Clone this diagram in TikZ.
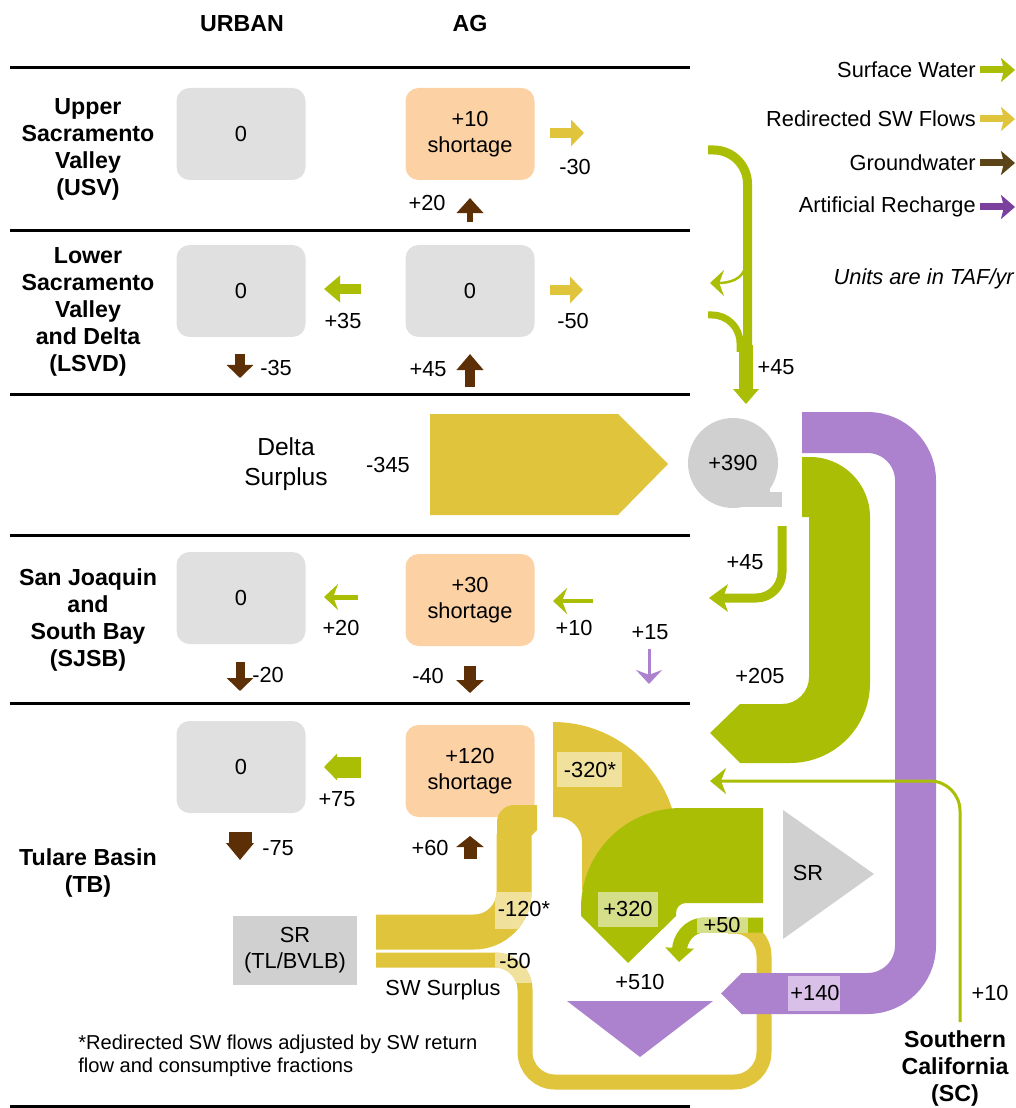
\documentclass[tikz,border=0pt]{standalone}
\usepackage{fontspec}
\setmainfont{Liberation Sans}
\usetikzlibrary{arrows.meta}
\definecolor{swgreen}{HTML}{A9BE04}
\definecolor{swgreenlt}{HTML}{D5DF8A}
\definecolor{redirgold}{HTML}{E0C43C}
\definecolor{redirgoldlt}{HTML}{F0E29C}
\definecolor{gwbrown}{HTML}{5C2F06}
\definecolor{gwlegend}{HTML}{5C4419}
\definecolor{arpurple}{HTML}{AC82CF}
\definecolor{arpurplelt}{HTML}{D8C0E8}
\definecolor{arlegend}{HTML}{7B3F9E}
\definecolor{boxgrey}{HTML}{E0E0E0}
\definecolor{srgrey}{HTML}{D0D0D0}
\definecolor{shortpeach}{HTML}{FCD1A4}
\newdimen\pxl
\pxl=0.025cm

\begin{document}
\begin{tikzpicture}[x=0.025cm, y=-0.025cm,
    font=\fontsize{15.5}{18.4}\selectfont,
    every node/.style={inner sep=0pt, align=center},
    region/.style={font=\fontsize{16.5}{19.2}\selectfont\bfseries},
    usebox/.style={fill=boxgrey, rounded corners=13\pxl, minimum width=129\pxl, minimum height=92\pxl},
    shortbox/.style={usebox, fill=shortpeach},
    divider/.style={draw=black, line width=3\pxl},
    blk/.style args={#1/#2/#3}{line width=#1\pxl, -{Triangle[length=#2cm, width=#3cm]}},
    narrowarr/.style={line width=#1\pxl, -{Stealth[length=0.35cm, width=0.65cm, inset=0.12cm]}},
    lgd/.style={line width=7\pxl, -{Stealth[length=0.35cm, width=0.6cm, inset=0.075cm]}}]
  \useasboundingbox (0,0) rectangle (1016,1108);
  % dividers
  \foreach \yy in {68,231,394,535,703,1106}
    \draw[divider] (10,\yy) -- (690,\yy);
  \node[region] (urbanhd) at (242,24) {URBAN};
  \node[region] (aghd) at (470,24) {AG};
  % legend
  \node[anchor=east] (lgsw) at (976,70) {Surface Water};
  \node[anchor=east] (lgredir) at (976,119) {Redirected SW Flows};
  \node[anchor=east] (lggw) at (976,163) {Groundwater};
  \node[anchor=east] (lgar) at (976,207) {Artificial Recharge};
  \draw[lgd, swgreen] (980,70) -- (1015,70);
  \draw[lgd, redirgold] (980,119) -- (1015,119);
  \draw[lgd, gwlegend] (980,163) -- (1015,163);
  \draw[lgd, arlegend] (980,207) -- (1015,207);
  \node[anchor=east, font=\fontsize{15.5}{18.4}\selectfont\itshape] (units) at (1014,279) {Units are in TAF/yr};
  % USV
  \node[region] (usv) at (88,149) {Upper\\Sacramento\\Valley\\(USV)};
  \node[usebox] (usvurb) at (241,134) {0};
  \node[shortbox] (usvag) at (470,134) {+10\\shortage};
  \draw[blk=10/0.325/0.65, redirgold] (550,133) -- (584,133);
  \node (usvout) at (575,167) {-30};
  \draw[blk=6/0.375/0.65, gwbrown] (470,222) -- (470,198);
  \node (usvgw) at (427,203) {+20};
  % LSVD
  \node[region] (lsvd) at (88,312) {Lower\\Sacramento\\Valley\\and Delta\\(LSVD)};
  \node[usebox] (lsvdurb) at (241,291) {0};
  \node[usebox] (lsvdag) at (470,291) {0};
  \draw[blk=10/0.4/0.65, swgreen] (361,289) -- (324,289);
  \node (lsvdsw) at (343,321) {+35};
  \draw[blk=10/0.325/0.65, redirgold] (550,290) -- (583,290);
  \node (lsvdout) at (573,321) {-50};
  \draw[blk=10/0.325/0.65, gwbrown] (240,354) -- (240,378);
  \node (lsvdugw) at (276,368) {-35};
  \draw[blk=10/0.4/0.65, gwbrown] (470,387) -- (470,354);
  \node (lsvdagw) at (428,369) {+45};
  % delta
  \node[font=\fontsize{17.5}{21.3}\selectfont] (delta) at (286,464) {Delta\\Surplus};
  \node (deltaval) at (388,465) {-345};
  \fill[redirgold] (430,414) -- (618,414) -- (668,464) -- (618,515) -- (430,515) -- cycle;
  \fill[srgrey] (733,463) circle[radius=45];
  \fill[srgrey] (733,480) rectangle (770,507);
  \fill[srgrey] (733,492) rectangle (782,507);
  \node (pump) at (733,463) {+390};
  % sw from north
  \draw[swgreen, line width=9\pxl, rounded corners=34\pxl] (708,150) -- (747.5,150) -- (747.5,352);
  \draw[swgreen, line width=7\pxl, rounded corners=28\pxl] (708,315) -- (740,315) -- (740,352);
  \fill[swgreen] (739,345) rectangle (753,390);
  \fill[swgreen] (733,389) -- (759,389) -- (746,404) -- cycle;
  \draw[swgreen, narrowarr=2.5] (745,268) .. controls (742,279) and (730,283) .. (710,283);
  \node (northsw) at (776,367) {+45};
  % SJSB
  \node[region] (sjsb) at (88,620) {San Joaquin\\and\\South Bay\\(SJSB)};
  \node[usebox] (sjsburb) at (241,598) {0};
  \node[shortbox] (sjsbag) at (470,600) {+30\\shortage};
  \draw[swgreen, narrowarr=5] (358,597) -- (324,597);
  \node (sjsbsw) at (341,628) {+20};
  \draw[swgreen, narrowarr=4] (593,601) -- (553,601);
  \node (sjsbagsw) at (574,628) {+10};
  \draw[arpurple, narrowarr=3] (649,649) -- (649,684);
  \node (sjsbar) at (650,632) {+15};
  \draw[blk=9/0.325/0.65, gwbrown] (240,662) -- (240,691);
  \node (sjsbugw) at (268,675) {-20};
  \draw[blk=12/0.325/0.675, gwbrown] (470,666) -- (470,693);
  \node (sjsbagw) at (428,676) {-40};
  \draw[swgreen, line width=9\pxl, rounded corners=26\pxl] (782,526) -- (782,598) -- (722,598);
  \fill[swgreen] (709,598) -- (728,584) -- (723,598) -- (728,612) -- cycle;
  \node (deltasw) at (745,562) {+45};
  \fill[swgreen] (802,457) -- (810,457) arc[start angle=-90, end angle=0, radius=60]
    -- (870,683) arc[start angle=0, end angle=90, radius=80]
    -- (740,763) -- (710,733) -- (740,704) -- (782,704)
    arc[start angle=90, end angle=0, radius=27] -- (809,517) -- (802,517) -- cycle;
  \node (southsw) at (760,676) {+205};
  % TB
  \node[region] (tb) at (88,873) {Tulare Basin\\(TB)};
  \node[usebox] (tburb) at (241,767) {0};
  \node[shortbox] (tbag) at (470,771) {+120\\shortage};
  \draw[blk=21/0.325/0.65, swgreen] (361,767) -- (324,767);
  \node (tbsw) at (337,799) {+75};
  \draw[blk=23/0.425/0.675, gwbrown] (240,832) -- (240,860);
  \node (tbugw) at (278,848) {-75};
  \draw[blk=13/0.275/0.675, gwbrown] (470,859) -- (470,836);
  \node (tbagw) at (430,848) {+60};
  \node[fill=srgrey, minimum width=124\pxl, minimum height=69\pxl] (srtb) at (295,950) {SR\\(TL/BVLB)};
  \fill[redirgold] (553,722) arc[start angle=-90, end angle=0, radius=125]
    -- (678,890) -- (582,890) -- (582,842) arc[start angle=0, end angle=-90, radius=25] -- (553,817) -- cycle;
  \fill[swgreen] (681,808) -- (763,808) -- (763,903) -- (686,903)
    arc[start angle=-90, end angle=-180, radius=10] -- (676,916) -- (628,963) -- (581,916) -- (581,908)
    arc[start angle=180, end angle=270, radius=100] -- cycle;
  \draw[redirgold, line width=35\pxl, rounded corners=40\pxl] (376,932) -- (514,932) -- (514,834);
  \fill[redirgold] (497,835) -- (497,822) arc[start angle=180, end angle=270, radius=17] -- (537,805) -- (537,830) -- (531,836) -- cycle;
  \draw[redirgold, line width=15\pxl, rounded corners=30\pxl] (376,960) -- (525,960) -- (525,1082) -- (764,1082) -- (764,926) -- (728,926);
  \begin{scope}
    \clip (495,892) rectangle (532,928);
    \draw[redirgoldlt, line width=35\pxl, rounded corners=40\pxl] (376,932) -- (514,932) -- (514,834);
  \end{scope}
  \begin{scope}
    \clip (495,953) rectangle (533,982);
    \draw[redirgoldlt, line width=15\pxl, rounded corners=30\pxl] (376,960) -- (525,960) -- (525,1082);
  \end{scope}
  \draw[swgreen, line width=15\pxl, -{Triangle[length=0.35cm, width=0.7cm]}] (763,925) -- (705,925) .. controls (688,925) and (680,940) .. (679,962);
  % recharge to SC
  \draw[arpurple, line width=41\pxl, rounded corners=48\pxl] (802,432.5) -- (915.5,432.5) -- (915.5,993.5) -- (741,993.5);
  \fill[arpurple] (741.5,973) -- (721,993.5) -- (741.5,1014) -- cycle;
  \draw[swgreen, line width=3\pxl, rounded corners=30\pxl, -{Stealth[length=0.4cm, width=0.65cm, inset=0.125cm]}] (960,1022) -- (960,781) -- (710,781);
  \fill[arpurple] (567,1001) -- (713,1001) -- (640,1057) -- cycle;
  \fill[srgrey] (783,810) -- (874,874) -- (783,939) -- cycle;
  % value patches
  \fill[redirgoldlt] (557,752) rectangle (622,787);
  \fill[swgreenlt] (598,892) rectangle (658,927);
  \fill[swgreenlt] (697,917.5) rectangle (748,932.5);
  \fill[arpurplelt] (788,976) rectangle (840,1011);
  \node (tbredir) at (590,770) {-320*};
  \node (tbsr) at (808,873) {SR};
  \node (tbredirag) at (524,909) {-120*};
  \node (tbsw2) at (628,909) {+320};
  \node (tbret) at (722,925) {+50};
  \node (tbsurp) at (515,961) {-50};
  \node (swsurp) at (443,990) {SW Surplus};
  \node (tbar) at (640,982) {+510};
  \node (scar) at (815,993) {+140};
  \node (scsw) at (990,993) {+10};
  \node[region] (sc) at (955,1068) {Southern\\California\\(SC)};
  \node[anchor=west, align=left, font=\fontsize{14.3}{16.3}\selectfont] (note) at (78,1056) {*Redirected SW flows adjusted by SW return\\flow and consumptive fractions};
\end{tikzpicture}
\end{document}
